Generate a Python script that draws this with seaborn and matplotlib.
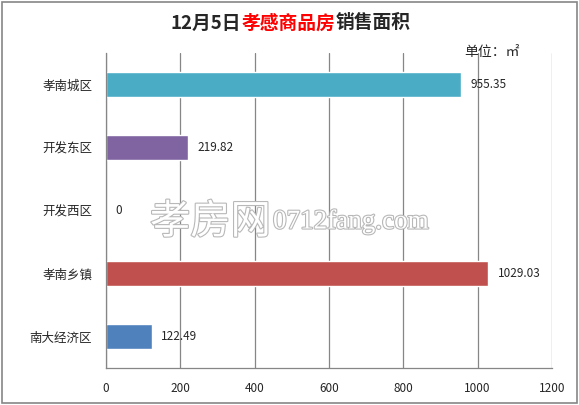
import pandas as pd
import matplotlib
matplotlib.use("Agg")
import matplotlib.pyplot as plt
import matplotlib.patheffects as pe
from matplotlib.patches import Rectangle
import seaborn as sns

# -----------------------------
# Data
# -----------------------------
regions = ["孝南城区", "开发东区", "开发西区", "孝南乡镇", "南大经济区"]
areas = [955.35, 219.82, 0, 1029.03, 122.49]
labels = ["955.35", "219.82", "0", "1029.03", "122.49"]
colors = ["#4BACC6", "#8064A2", "#9BBB59", "#C0504D", "#4F81BD"]
x_ticks = [0, 200, 400, 600, 800, 1000, 1200]

df = pd.DataFrame({"region": regions, "area": areas})

# -----------------------------
# Settings
# -----------------------------
sns.set_style("white")
plt.rcParams["font.family"] = ["Noto Sans CJK SC", "DejaVu Sans"]

fig = plt.figure(figsize=(5.79, 4.05), dpi=100)
ax = fig.add_axes([106 / 579, 1 - 368 / 405, 446 / 579, 315 / 405])

sns.barplot(
    data=df, x="area", y="region", hue="region", palette=colors,
    orient="h", width=0.41, legend=False, ax=ax, saturation=1
)

ax.set_xlim(0, 1200)
ax.set_ylim(len(regions) - 0.5, -0.5)
ax.set_xticks(x_ticks)
ax.set_xticklabels([str(t) for t in x_ticks], fontsize=8.5)
ax.set_xlabel("")
ax.set_ylabel("")
ax.tick_params(axis="y", which="major", length=0, pad=10, labelsize=9)
ax.set_yticks([i + 0.5 for i in range(-1, len(regions))], minor=True)
ax.tick_params(axis="y", which="minor", length=5, color="#868686", direction="out")
ax.tick_params(axis="x", which="major", length=4, color="#868686", direction="out", pad=6)

ax.grid(axis="x", color="#868686", linewidth=0.9)
ax.set_axisbelow(True)
for side in ["top", "right"]:
    ax.spines[side].set_visible(False)
for side in ["left", "bottom"]:
    ax.spines[side].set_color("#868686")
    ax.spines[side].set_linewidth(0.9)

# value labels
for i, (v, lab) in enumerate(zip(areas, labels)):
    ax.annotate(lab, xy=(v, i), xytext=(7, 0), textcoords="offset points",
                va="center", ha="left", fontsize=8.5)

# watermark
outline = [pe.withStroke(linewidth=1.6, foreground="#b8b8b8")]
fig.text(150 / 579, 1 - 222 / 405, "孝房网", fontsize=29, color="white",
         ha="left", va="center", path_effects=outline)
fig.text(273 / 579, 1 - 222 / 405, "0712fang.com", fontsize=19.5, color="white",
         family="Liberation Serif", ha="left", va="center", path_effects=outline)

# title in three colours
t1 = fig.text(171 / 579, 1 - 23 / 405, "12月5日", fontsize=13.5, fontweight="bold",
              ha="left", va="center")
t2 = ax.annotate("孝感商品房", xycoords=t1, xy=(1, 0.5), va="center", ha="left",
                 fontsize=13.5, fontweight="bold", color="#FF0000")
t3 = ax.annotate("销售面积", xycoords=t2, xy=(1, 0.5), va="center", ha="left",
                 fontsize=13.5, fontweight="bold")

fig.text(464 / 579, 1 - 52 / 405, "单位：㎡", fontsize=10, ha="left", va="center")

# outer border
fig.patches.append(Rectangle((0.003, 0.004), 0.994, 0.992, transform=fig.transFigure,
                             fill=False, edgecolor="#868686", linewidth=1.2))

fig.savefig("out.png", dpi=100)
